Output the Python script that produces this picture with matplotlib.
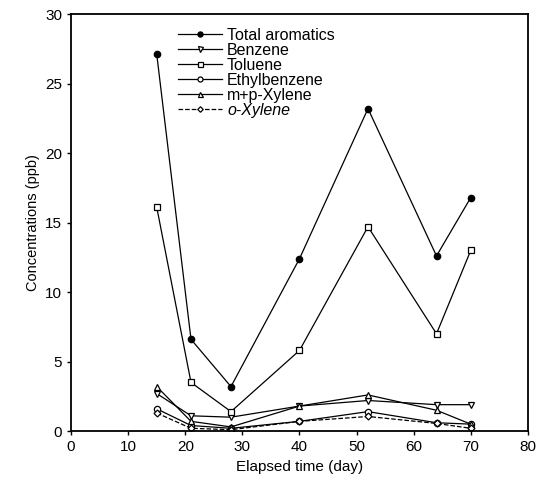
import matplotlib
matplotlib.use("Agg")
import matplotlib.pyplot as plt

plt.rcParams['font.family'] = ['Liberation Sans', 'DejaVu Sans']

days = [15, 21, 28, 40, 52, 64, 70]
total = [27.1, 6.6, 3.2, 12.4, 23.2, 12.6, 16.8]
benzene = [2.7, 1.1, 1.0, 1.8, 2.2, 1.9, 1.9]
toluene = [16.1, 3.5, 1.4, 5.8, 14.7, 7.0, 13.0]
ethylbenzene = [1.6, 0.4, 0.2, 0.7, 1.4, 0.6, 0.5]
mp_xylene = [3.2, 0.7, 0.3, 1.8, 2.6, 1.5, 0.5]
o_xylene = [1.3, 0.2, 0.1, 0.7, 1.05, 0.55, 0.2]

fig = plt.figure(figsize=(5.47, 4.86), dpi=100)
ax = fig.add_axes([0.130, 0.113, 0.835, 0.858])

# open markers, thin black lines
kw = dict(color='black', lw=0.9, ms=4.5, mfc='white', mec='black', mew=0.9)
ax.plot(days, total, marker='o', label='Total aromatics', color='black', lw=0.9, ms=4.5, mfc='black', mec='black')
ax.plot(days, benzene, marker='v', label='Benzene', **kw)
ax.plot(days, toluene, marker='s', label='Toluene', **kw)
ax.plot(days, ethylbenzene, marker='o', label='Ethylbenzene', **kw)
ax.plot(days, mp_xylene, marker='^', label='m+p-Xylene', **kw)
ax.plot(days, o_xylene, marker='D', ls='--', label='o-Xylene', color='black', lw=0.9, ms=3.5, mfc='white', mec='black', mew=0.9)

ax.set_xlim(0, 80)
ax.set_ylim(0, 30)
ax.set_xticks(range(0, 81, 10))
ax.set_yticks(range(0, 31, 5))
ax.tick_params(direction='out', length=3, width=1, labelsize=11)
for s in ax.spines.values():
    s.set_linewidth(1.3)

ax.set_xlabel('Elapsed time (day)', fontsize=11)
ax.set_ylabel('Concentrations (ppb)', fontsize=10.5)

leg = ax.legend(loc='upper left', bbox_to_anchor=(0.205, 0.998), frameon=False,
                fontsize=11.5, handlelength=2.8, labelspacing=0.0, handletextpad=0.3,
                borderpad=0.3, markerscale=0.8)
leg.get_texts()[5].set_fontstyle('italic')

fig.savefig('out.png', dpi=100)
